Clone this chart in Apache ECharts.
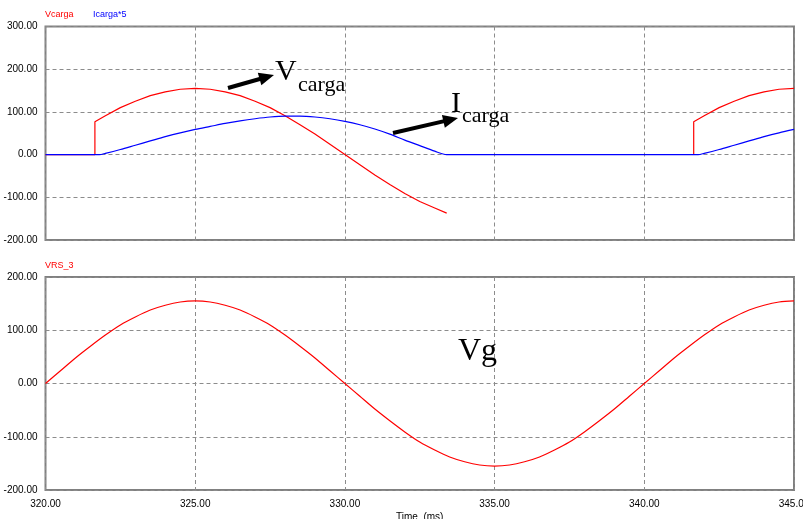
<!DOCTYPE html>
<html>
<head>
<meta charset="utf-8">
<script src="https://cdn.jsdelivr.net/npm/echarts@6/dist/echarts.min.js"></script>
<style>
html,body{margin:0;padding:0;background:#fff;}
#chart{width:803px;height:519px;}
</style>
</head>
<body>
<div id="chart"></div>
<script>
// ---- Data ----
const xTicks = [320, 325, 330, 335, 340, 345];
const topYTicks = [-200, -100, 0, 100, 200, 300];
const bottomYTicks = [-200, -100, 0, 100, 200];

// Vcarga (V)
const vcargaTime = [320, 321.65, 321.65, 322, 322.5, 323, 323.5, 324, 324.5, 325, 325.5, 326, 326.5, 327, 327.5, 328, 328.5, 329, 329.5, 330, 330.5, 331, 331.5, 332, 332.5, 333, 333.4, 337, 341.65, 341.65, 342, 342.5, 343, 343.5, 344, 344.5, 345];
const vcargaValue = [0, 0, 77, 91, 110, 125, 138, 147, 153, 155, 153, 147, 138, 125, 110, 91, 70, 48, 24, 0, -24, -48, -70, -91, -110, -125, -137, null, 0, 77, 91, 110, 125, 138, 147, 153, 155];

// Icarga*5
const icargaTime = [320, 321.8, 322, 322.5, 323, 323.5, 324, 324.5, 325, 325.5, 326, 326.5, 327, 327.5, 328, 328.5, 329, 329.5, 330, 330.5, 331, 331.5, 332, 332.5, 333, 333.4, 341.8, 342, 342.5, 343, 343.5, 344, 344.5, 345];
const icargaValue = [0, 0, 3, 12, 22, 32, 42, 51, 59, 66, 73, 79, 84, 88, 90, 90, 88, 84, 78, 70, 60, 48, 34, 21, 8, 0, 0, 3, 12, 22, 32, 42, 51, 59];

// VRS_3 (Vg)
const vgTime = [320, 320.5, 321, 321.5, 322, 322.5, 323, 323.5, 324, 324.5, 325, 325.5, 326, 326.5, 327, 327.5, 328, 328.5, 329, 329.5, 330, 330.5, 331, 331.5, 332, 332.5, 333, 333.5, 334, 334.5, 335, 335.5, 336, 336.5, 337, 337.5, 338, 338.5, 339, 339.5, 340, 340.5, 341, 341.5, 342, 342.5, 343, 343.5, 344, 344.5, 345];
const vgValue = [0, 24, 48, 70, 91, 110, 125, 138, 147, 153, 155, 153, 147, 138, 125, 110, 91, 70, 48, 24, 0, -24, -48, -70, -91, -110, -125, -138, -147, -153, -155, -153, -147, -138, -125, -110, -91, -70, -48, -24, 0, 24, 48, 70, 91, 110, 125, 138, 147, 153, 155];

function pairs(t, v) {
  return t.map((x, i) => [x, v[i] === null ? '-' : v[i]]);
}

const chart = echarts.init(document.getElementById('chart'), null, {renderer: 'canvas'});

const labelFont = {fontFamily: 'Liberation Sans, Arial, sans-serif', fontSize: 10, color: '#000'};
const splitStyle = {show: true, lineStyle: {color: '#8c8c8c', type: [4, 3], width: 1}};

function yAxis(idx, min, max) {
  return {
    type: 'value', gridIndex: idx, min: min, max: max, interval: 100,
    axisLine: {show: false}, axisTick: {show: false},
    axisLabel: Object.assign({margin: 8, formatter: v => v.toFixed(2)}, labelFont),
    splitLine: splitStyle
  };
}

function arrow(x1, y1, x2, y2) {
  const dx = x2 - x1, dy = y2 - y1, L = Math.sqrt(dx*dx + dy*dy);
  const ux = dx / L, uy = dy / L, nx = -uy, ny = ux;
  const hl = 15, hw = 6.5;
  const bx = x2 - hl*ux, by = y2 - hl*uy;
  return [
    {type: 'line', shape: {x1: x1, y1: y1, x2: bx + ux*2, y2: by + uy*2}, style: {stroke: '#000', lineWidth: 4}, z: 100},
    {type: 'polygon', shape: {points: [[x2, y2], [bx + hw*nx, by + hw*ny], [bx - hw*nx, by - hw*ny]]}, style: {fill: '#000'}, z: 100}
  ];
}

const serif = 'Liberation Serif, Times New Roman, serif';
const lineCommon = {type: 'line', showSymbol: false, connectNulls: false};

const option = {
  animation: false,
  backgroundColor: '#fff',
  grid: [
    {left: 45.5, right: 9, top: 26.5, height: 213.5, show: true, borderColor: '#808080', borderWidth: 2, backgroundColor: 'transparent', outerBoundsMode: 'none', containLabel: false},
    {left: 45.5, right: 9, top: 277, height: 213, show: true, borderColor: '#808080', borderWidth: 2, backgroundColor: 'transparent', outerBoundsMode: 'none', containLabel: false}
  ],
  xAxis: [
    {type: 'value', gridIndex: 0, min: 320, max: 345, interval: 5,
     axisLine: {show: false}, axisTick: {show: false}, axisLabel: {show: false}, splitLine: splitStyle},
    {type: 'value', gridIndex: 1, min: 320, max: 345, interval: 5,
     axisLine: {show: false}, axisTick: {show: false},
     axisLabel: Object.assign({margin: 9, formatter: v => v.toFixed(2), showMaxLabel: true, showMinLabel: true}, labelFont),
     splitLine: splitStyle,
     name: 'Time  (ms)', nameLocation: 'middle', nameGap: 22,
     nameTextStyle: labelFont}
  ],
  yAxis: [yAxis(0, topYTicks[0], topYTicks[topYTicks.length-1]), yAxis(1, bottomYTicks[0], bottomYTicks[bottomYTicks.length-1])],
  series: [
    Object.assign({}, lineCommon, {name: 'Vcarga', xAxisIndex: 0, yAxisIndex: 0, data: pairs(vcargaTime, vcargaValue),
     lineStyle: {color: '#ff0000', width: 1.2}, itemStyle: {color: '#ff0000'}, z: 3}),
    Object.assign({}, lineCommon, {name: 'Icarga*5', xAxisIndex: 0, yAxisIndex: 0, data: pairs(icargaTime, icargaValue),
     smooth: 0.3, lineStyle: {color: '#0000ff', width: 1.2}, itemStyle: {color: '#0000ff'}, z: 4}),
    Object.assign({}, lineCommon, {name: 'VRS_3', xAxisIndex: 1, yAxisIndex: 1, data: pairs(vgTime, vgValue),
     smooth: 0.3, lineStyle: {color: '#ff0000', width: 1.2}, itemStyle: {color: '#ff0000'}, z: 3})
  ],
  graphic: [
    {type: 'text', left: 45, top: 10, style: {text: 'Vcarga', fill: '#ff0000', font: '9px Liberation Sans, Arial, sans-serif'}},
    {type: 'text', left: 93, top: 10, style: {text: 'Icarga*5', fill: '#0000ff', font: '9px Liberation Sans, Arial, sans-serif'}},
    {type: 'text', left: 45, top: 261, style: {text: 'VRS_3', fill: '#ff0000', font: '9px Liberation Sans, Arial, sans-serif'}},
    {type: 'text', x: 275, y: 57, style: {text: 'V', fill: '#000', font: '30px ' + serif}, z: 100},
    {type: 'text', x: 298, y: 74, style: {text: 'carga', fill: '#000', font: '22px ' + serif}, z: 100},
    {type: 'text', x: 451, y: 89, style: {text: 'I', fill: '#000', font: '30px ' + serif}, z: 100},
    {type: 'text', x: 462, y: 105, style: {text: 'carga', fill: '#000', font: '22px ' + serif}, z: 100},
    {type: 'text', x: 458, y: 336, style: {text: 'Vg', fill: '#000', font: '32px ' + serif}, z: 100}
  ].concat(arrow(228, 88, 274, 75)).concat(arrow(393, 133, 458, 118))
};

chart.setOption(option);
</script>
</body>
</html>
